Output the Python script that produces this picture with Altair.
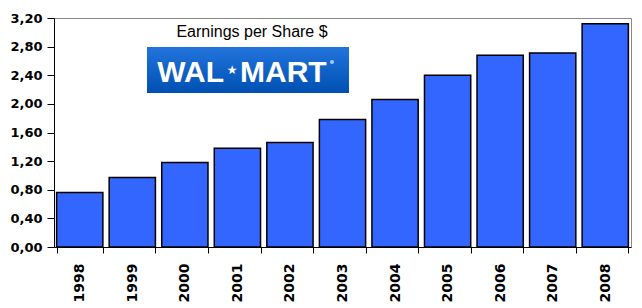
import altair as alt
import pandas as pd

years = ["1998", "1999", "2000", "2001", "2002", "2003", "2004", "2005", "2006", "2007", "2008"]
eps = [0.76, 0.97, 1.18, 1.38, 1.46, 1.78, 2.06, 2.40, 2.68, 2.71, 3.12]
y_ticks = [0.0, 0.4, 0.8, 1.2, 1.6, 2.0, 2.4, 2.8, 3.2]
title_text = "Earnings per Share $"
logo_left = "WAL"
logo_star = "\u2605"
logo_right = "MART"

df = pd.DataFrame({"year": years, "eps": eps})
one = pd.DataFrame({"k": [0]})

W, H = 577, 229

bars = alt.Chart(df).mark_bar(color="#3366FF", stroke="#000000", strokeWidth=1.5).encode(
    x=alt.X("year:N", sort=years,
            scale=alt.Scale(paddingInner=0.12, paddingOuter=0.05),
            axis=alt.Axis(title=None, labelAngle=-90, labelFont="DejaVu Sans", labelFontWeight="bold",
                          labelFontSize=14, labelColor="#000000", tickBand="extent", tickSize=6,
                          tickColor="#000000", domainColor="#000000", labelPadding=10,
                          labelAlign="right", labelBaseline="middle")),
    y=alt.Y("eps:Q", scale=alt.Scale(domain=[0, 3.2], nice=False),
            axis=alt.Axis(title=None, values=y_ticks, grid=False,
                          labelExpr="replace(format(datum.value, '.2f'), '.', ',')",
                          labelFont="DejaVu Sans", labelFontWeight="bold", labelFontSize=13,
                          labelColor="#000000", tickSize=7, tickColor="#000000",
                          domainColor="#000000", labelPadding=5)),
)

logo_bg = alt.Chart(one).mark_rect(
    fill=alt.Gradient(gradient="linear", x1=0, y1=0, x2=0, y2=1,
                      stops=[alt.GradientStop(color="#2274DC", offset=0),
                             alt.GradientStop(color="#0050B2", offset=1)])
).encode(x=alt.value(93), x2=alt.value(295), y=alt.value(29), y2=alt.value(75))

logo_a = alt.Chart(one).mark_text(
    font="Liberation Sans", fontWeight="bold", fontSize=30, color="#FFFFFF",
    align="right", baseline="alphabetic"
).encode(x=alt.value(170), y=alt.value(64), text=alt.value(logo_left))

logo_s = alt.Chart(one).mark_text(
    font="DejaVu Sans", fontSize=12, color="#FFFFFF", align="center", baseline="middle"
).encode(x=alt.value(178), y=alt.value(52), text=alt.value(logo_star))

logo_b = alt.Chart(one).mark_text(
    font="Liberation Sans", fontWeight="bold", fontSize=30, color="#FFFFFF",
    align="left", baseline="alphabetic"
).encode(x=alt.value(186), y=alt.value(64), text=alt.value(logo_right))

reg = alt.Chart(one).mark_point(filled=True, color="#9EC8F5", size=18, opacity=1).encode(
    x=alt.value(278), y=alt.value(44))

title = alt.Chart(one).mark_text(
    font="Liberation Sans", fontSize=16, color="#000000", align="center", baseline="alphabetic"
).encode(x=alt.value(198), y=alt.value(19), text=alt.value(title_text))

chart = alt.layer(bars, logo_bg, logo_a, logo_s, logo_b, reg, title).properties(
    width=W, height=H,
    autosize=alt.AutoSizeParams(type="none"),
    padding={"left": 54, "top": 18, "right": 11, "bottom": 61},
    background="#FFFFFF",
).configure_view(stroke="#888888", strokeWidth=1)

chart.save("out.html", embed_options={"renderer": "svg", "actions": False})
